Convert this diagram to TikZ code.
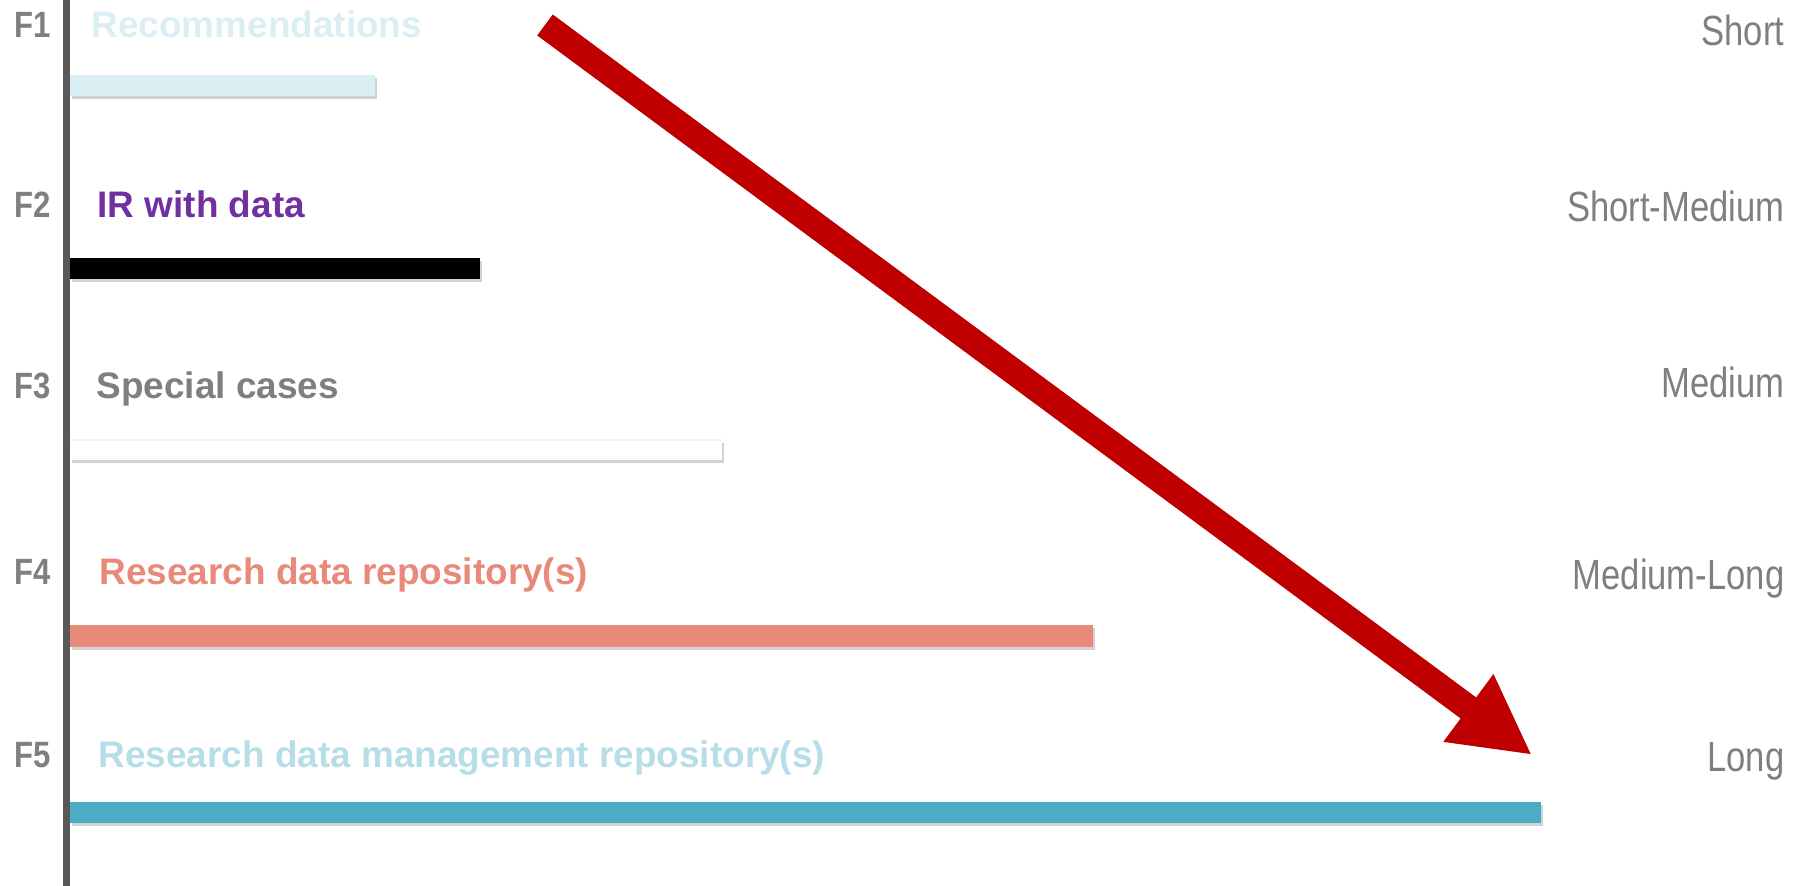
\documentclass[tikz,border=0pt]{standalone}
\usepackage{fontspec}
\setmainfont{Liberation Sans}
\usepackage{graphicx}
\usetikzlibrary{positioning, arrows.meta, shadows}

\definecolor{axisgray}{HTML}{595959}
\definecolor{labelgray}{HTML}{7F7F7F}
\definecolor{recblue}{HTML}{DAEEF3}
\definecolor{irpurple}{HTML}{7030A0}
\definecolor{reposalmon}{HTML}{E8897A}
\definecolor{rdmbar}{HTML}{4BACC6}
\definecolor{rdmtext}{HTML}{B7DEE8}
\definecolor{trendred}{HTML}{C00000}

\begin{document}
\begin{tikzpicture}[x=0.01cm, y=-0.01cm,
    fid/.style={anchor=base east, inner sep=0pt, text=labelgray, font=\fontsize{10.4}{12}\selectfont\bfseries},
    title/.style={anchor=base west, inner sep=0pt, font=\fontsize{10.5}{12}\selectfont\bfseries},
    term/.style={anchor=base east, inner sep=0pt, text=labelgray, font=\fontsize{12}{14}\selectfont},
    bar/.style={drop shadow={shadow xshift=0.5pt, shadow yshift=-0.9pt, opacity=0.25, fill=black!70}},
    trend/.style={line width=7.4pt, draw=trendred, -{Triangle[width=22.2pt, length=22.5pt]}}]

    \useasboundingbox (0,0) rectangle (1793,886);

    % =========================================================================
    % TIME AXIS
    % =========================================================================
    \coordinate (axtop) at (66.5,0);
    \coordinate (axbot) at (66.5,886);
    \draw[line width=2pt, axisgray] (axtop) -- (axbot);

    % =========================================================================
    % LEVELS F1 ... F5
    % =========================================================================
    % Level labels
    \node[fid] (F1) at (51,38)  {\scalebox{0.85}[1]{F1}};
    \node[fid] (F2) at (51,218) {\scalebox{0.85}[1]{F2}};
    \node[fid] (F3) at (51,399) {\scalebox{0.85}[1]{F3}};
    \node[fid] (F4) at (51,585) {\scalebox{0.85}[1]{F4}};
    \node[fid] (F5) at (51,768) {\scalebox{0.85}[1]{F5}};

    % Level titles
    \node[title, text=recblue]    (recom)   at (91,38)  {Recommendations};
    \node[title, text=irpurple]   (irdata)  at (97,218) {IR with data};
    \node[title, text=labelgray]  (special) at (96,399) {Special cases};
    \node[title, text=reposalmon] (repo)    at (99,585) {Research data repository(s)};
    \node[title, text=rdmtext]    (rdmrepo) at (98,768) {Research data management repository(s)};

    % Duration bars
    \fill[bar, recblue]    (70,75)  rectangle (375,96);
    \fill[bar, black]      (70,258) rectangle (480,279);
    \fill[bar, white]      (70,440) rectangle (722,460);
    \draw[black!6, line width=0.4pt] (70,440) -- (722,440);
    \fill[bar, reposalmon] (70,625) rectangle (1093,647);
    \fill[bar, rdmbar]     (70,802) rectangle (1541,823);

    % =========================================================================
    % TIME SCALE (right)
    % =========================================================================
    \node[term] (tshort)    at (1785,46)  {\scalebox{0.82}[1]{Short}};
    \node[term] (tshortmed) at (1785,222) {\scalebox{0.82}[1]{Short-Medium}};
    \node[term] (tmed)      at (1785,398) {\scalebox{0.82}[1]{Medium}};
    \node[term] (tmedlong)  at (1785,590) {\scalebox{0.82}[1]{Medium-Long}};
    \node[term] (tlong)     at (1785,772) {\scalebox{0.82}[1]{Long}};

    % =========================================================================
    % TREND ARROW
    % =========================================================================
    \coordinate (trendtail) at (545,25);
    \coordinate (trendtip)  at (1532,755);
    \begin{scope}[shift={(-2,4)}]
        \draw[trend, draw=black, opacity=0.2] (trendtail) -- (trendtip);
    \end{scope}
    \draw[trend] (trendtail) -- (trendtip);

\end{tikzpicture}
\end{document}
